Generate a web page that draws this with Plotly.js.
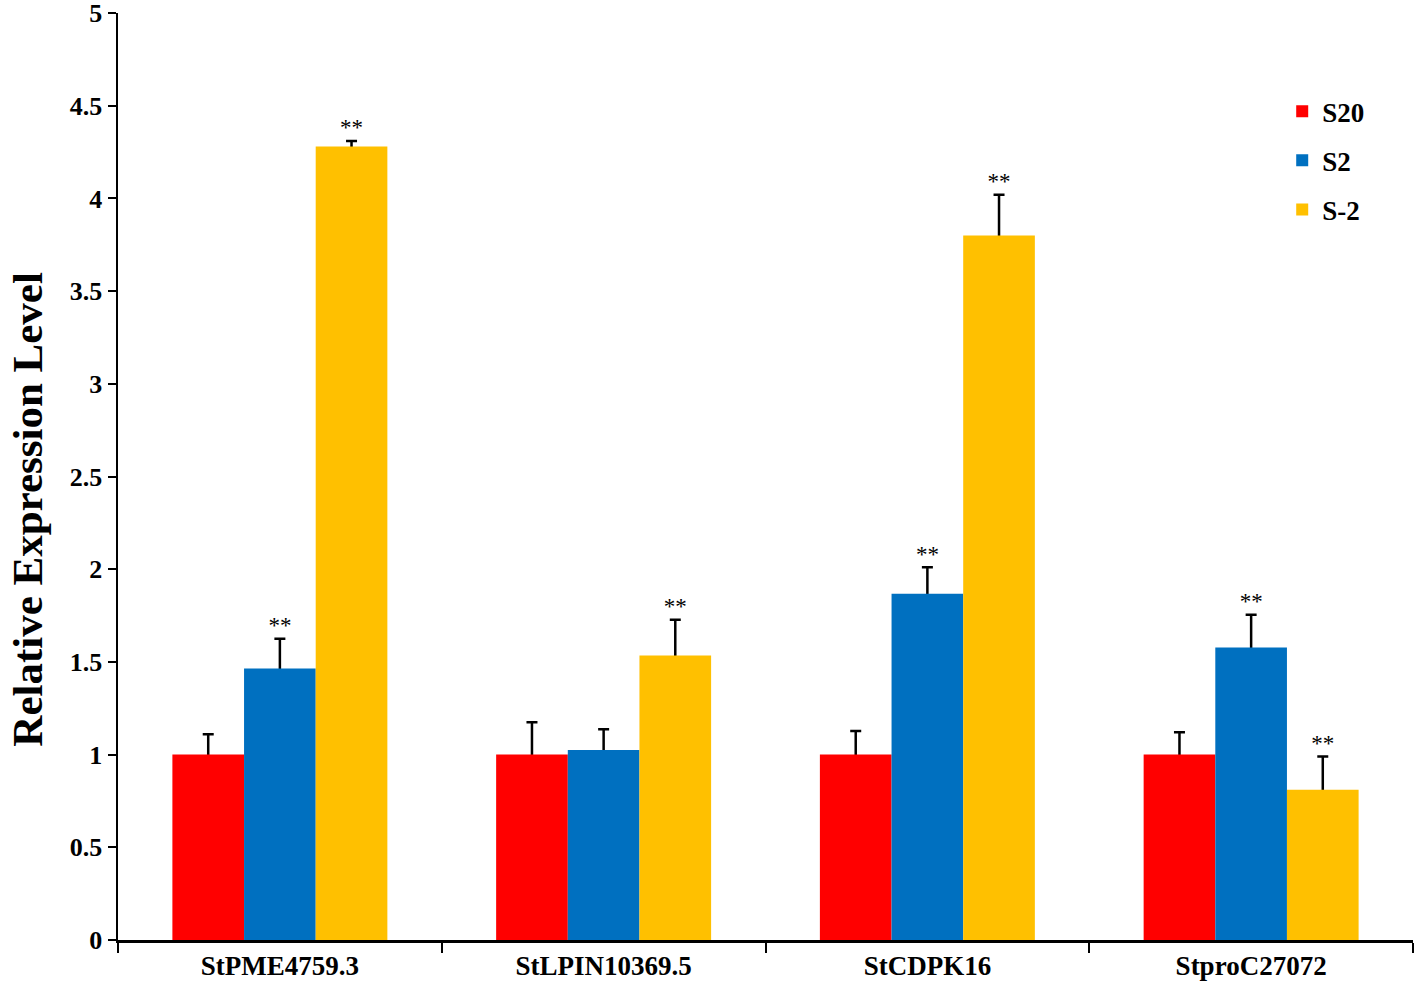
<!DOCTYPE html>
<html>
<head>
<meta charset="utf-8">
<script src="https://cdn.plot.ly/plotly-3.0.1.min.js"></script>
<style>
  html, body { margin: 0; padding: 0; background: #fff; }
  #chart { width: 1416px; height: 990px; }
</style>
</head>
<body>
<div id="chart"></div>
<script>
// genes on the x axis
const genes = ['StPME4759.3', 'StLPIN10369.5', 'StCDPK16', 'StproC27072'];
const seriesNames = ['S20', 'S2', 'S-2'];
const seriesColors = ['#FF0000', '#0070C0', '#FFC000'];

// mean relative expression
const s20Mean = [1.0, 1.0, 1.0, 1.0];
const s2Mean = [1.465, 1.025, 1.867, 1.577];
const sm2Mean = [4.28, 1.534, 3.80, 0.81];

// upper error (sd)
const s20Err = [0.11, 0.175, 0.127, 0.12];
const s2Err = [0.16, 0.112, 0.143, 0.177];
const sm2Err = [0.03, 0.193, 0.22, 0.18];

// significance marks
const s20Sig = ['', '', '', ''];
const s2Sig = ['**', '', '**', '**'];
const sm2Sig = ['**', '**', '**', '**'];

const means = [s20Mean, s2Mean, sm2Mean];
const errs = [s20Err, s2Err, sm2Err];
const sigs = [s20Sig, s2Sig, sm2Sig];

const font = 'Liberation Serif, Times New Roman, serif';
const traces = [];

// error bars first, on see-through bars, so the real bars cover their foot
for (let i = 0; i < 3; i++) {
    traces.push({
        type: 'bar',
        x: genes,
        y: means[i],
        offsetgroup: seriesNames[i],
        marker: { color: 'rgba(0,0,0,0)' },
        error_y: {
            type: 'data',
            symmetric: false,
            array: errs[i],
            arrayminus: means[i].map(() => 0.03),
            color: '#000',
            thickness: 2.5,
            width: 5.5
        },
        showlegend: false,
        hoverinfo: 'skip'
    });
}

for (let i = 0; i < 3; i++) {
    traces.push({
        type: 'bar',
        name: seriesNames[i],
        x: genes,
        y: means[i],
        offsetgroup: seriesNames[i],
        legendgroup: seriesNames[i],
        marker: { color: seriesColors[i] }
    });
}

// ** above the error bars
for (let i = 0; i < 3; i++) {
    traces.push({
        type: 'scatter',
        mode: 'text',
        x: genes,
        y: means[i].map((m, k) => m + errs[i][k]),
        text: sigs[i],
        textposition: 'top center',
        textfont: { family: font, size: 23, color: '#000' },
        offsetgroup: seriesNames[i],
        showlegend: false,
        hoverinfo: 'skip'
    });
}

const layout = {
    width: 1416,
    height: 990,
    margin: { l: 118, r: 3, t: 13, b: 50 },
    paper_bgcolor: '#fff',
    plot_bgcolor: '#fff',
    barmode: 'group',
    bargap: 0.336,
    bargroupgap: 0,
    scattermode: 'group',
    scattergap: 0.336,
    font: { family: font, color: '#000' },
    xaxis: {
        type: 'category',
        showline: true,
        linecolor: '#000',
        linewidth: 2.5,
        ticks: 'outside',
        tickson: 'boundaries',
        ticklen: 10,
        tickwidth: 2,
        tickcolor: '#000',
        showgrid: false,
        zeroline: false,
        tickfont: { family: font, size: 27, color: '#000', weight: 'bold' }
    },
    yaxis: {
        range: [0, 5],
        dtick: 0.5,
        showline: true,
        linecolor: '#000',
        linewidth: 2.5,
        ticks: 'outside',
        ticklen: 8,
        tickwidth: 2,
        tickcolor: '#000',
        showgrid: false,
        zeroline: false,
        ticklabeloverflow: 'allow',
        tickfont: { family: font, size: 26, color: '#000', weight: 'bold' }
    },
    annotations: [{
        text: 'Relative Expression Level',
        textangle: -90,
        xref: 'paper',
        yref: 'paper',
        x: -0.07,
        y: 0.4646,
        xanchor: 'center',
        yanchor: 'middle',
        showarrow: false,
        font: { family: font, size: 43, color: '#000', weight: 'bold' }
    }],
    legend: {
        x: 0.899,
        y: 0.92,
        xanchor: 'left',
        yanchor: 'top',
        traceorder: 'grouped',
        tracegroupgap: 11,
        bgcolor: 'rgba(0,0,0,0)',
        font: { family: font, size: 27, color: '#000', weight: 'bold' }
    }
};

Plotly.newPlot('chart', traces, layout, { staticPlot: true });
</script>
</body>
</html>
